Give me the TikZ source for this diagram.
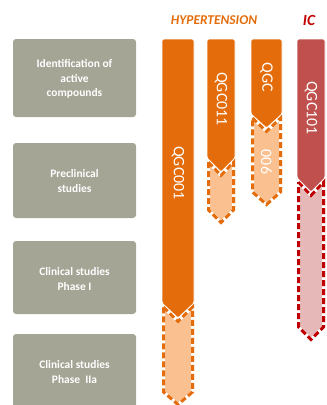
\documentclass[tikz,border=0pt]{standalone}
\usepackage{fontspec}
\setmainfont{Carlito}
\definecolor{boxgray}{RGB}{165,165,150}
\definecolor{orng}{RGB}{228,108,10}
\definecolor{lorng}{RGB}{250,192,144}
\definecolor{redbar}{RGB}{192,80,77}
\definecolor{pinkfill}{RGB}{230,185,184}
\definecolor{dred}{RGB}{192,0,0}
\tikzset{
  stagebox/.style={fill=boxgray, rounded corners=3bp},
  stagetext/.style={text=white, font=\bfseries\fontsize{11.5}{14.5}\selectfont, align=center},
  solidbar/.style={draw=white, line width=0.8bp, rounded corners=1.5bp},
  dashunder/.style={draw=white, line width=3bp, line join=miter},
  dashover/.style={line width=3bp, dash pattern=on 6bp off 3bp},
  bartext/.style={text=white, rotate=-90, font=\fontsize{16}{16}\selectfont, inner sep=0pt},
  headtext/.style={font=\bfseries\itshape, inner sep=0pt}
}
\newcommand{\solidpart}[6]{% color, x1, x2, top, sides, point
  \path[solidbar, fill=#1] (#2,#4) -- (#2,#5) -- ({(#2+#3)/2},#6) -- (#3,#5) -- (#3,#4) -- cycle;}
\newcommand{\dashpart}[8]{% fill, draw, x1, x2, topsides, notch, bottomsides, point
  \path[fill=#1] (#3,#5) -- ({(#3+#4)/2},#6) -- (#4,#5) -- (#4,#7) -- ({(#3+#4)/2},#8) -- (#3,#7) -- cycle;
  \path[dashunder] ({#3+1.5},#5) -- ({(#3+#4)/2},{#6-0.5}) -- ({#4-1.5},#5) -- ({#4-1.5},#7) -- ({(#3+#4)/2},{#8-1.5}) -- ({#3+1.5},#7) -- cycle;
  \path[dashover, draw=#2] ({#3+1.5},#5) -- ({(#3+#4)/2},{#6-0.5}) -- ({#4-1.5},#5) -- ({#4-1.5},#7) -- ({(#3+#4)/2},{#8-1.5}) -- ({#3+1.5},#7) -- cycle;}
\begin{document}
\begin{tikzpicture}[x=1bp,y=-1bp]
\useasboundingbox (0,0) rectangle (327,405);
% stage boxes
\path[stagebox] (13,39) rectangle (136,117);
\path[stagebox] (13,143) rectangle (136,218);
\path[stagebox] (13,241) rectangle (136,314);
\path[stagebox] (13,334) rectangle (136,412);
\node[stagetext] (s1) at (74.5,79) {Identification of\\active\\compounds};
\node[stagetext] (s2) at (74.5,181) {Preclinical\\studies};
\node[stagetext] (s3) at (74.5,279) {Clinical studies\\Phase I};
\node[stagetext] (s4) at (74.5,372) {Clinical studies\\Phase\ \ IIa};
% headers
\node[headtext, text=orng, font=\bfseries\itshape\fontsize{13.5}{13.5}\selectfont] (hyp) at (214,20) {HYPERTENSION};
\node[headtext, text=dred, font=\bfseries\itshape\fontsize{15.5}{15.5}\selectfont] (ic) at (309,20) {IC};
% bar 1
\dashpart{lorng}{orng}{162}{194}{307}{322}{392}{406}
\solidpart{orng}{162}{194}{39}{303}{318}
% bar 2
\dashpart{lorng}{orng}{207}{235}{162}{176}{210}{224}
\solidpart{orng}{207}{235}{39}{158}{172}
% bar 3
\dashpart{lorng}{orng}{251}{282}{118}{132}{192}{206}
\solidpart{orng}{251}{282}{39}{114}{128}
% bar 4
\dashpart{pinkfill}{dred}{297}{325}{182}{196}{327}{341}
\solidpart{redbar}{297}{325}{39}{178}{192}
% bar labels
\node[bartext] (b1) at (178,173) {QGC001};
\node[bartext] (b2) at (221,99) {QGC011};
\node[bartext] (b3) at (266.5,77) {QGC};
\node[bartext] (b3b) at (266.5,162) {006};
\node[bartext] (b4) at (311,108) {QGC101};
\end{tikzpicture}
\end{document}
